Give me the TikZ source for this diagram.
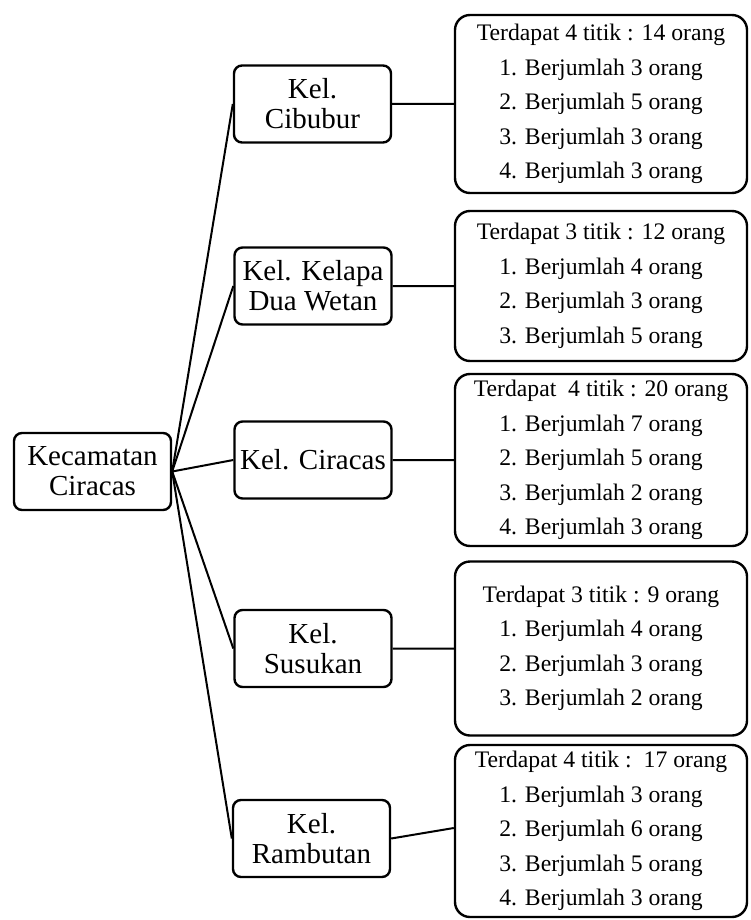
\documentclass[tikz,border=0pt]{standalone}
\usepackage{fontspec}
\setmainfont{Liberation Serif}
\tikzset{
  kel/.style={draw, line width=2.4pt, rounded corners=8pt, minimum width=157pt,
    minimum height=77pt, inner sep=0pt, align=center, font=\fontsize{29}{30}\selectfont},
  rinci/.style={draw, line width=2.4pt, rounded corners=15pt, minimum width=292pt,
    inner sep=0pt, align=center, font=\fontsize{23.7}{34.5}\selectfont},
}
\begin{document}
\begin{tikzpicture}[x=1pt,y=-1pt,line width=2pt]
\useasboundingbox (0,0) rectangle (750,920);
% kecamatan
\node[kel] (kec) at (92.5,471.5) {Kecamatan\\Ciracas};
% kelurahan
\node[kel] (cibubur)  at (312.5,104) {Kel.\\Cibubur};
\node[kel] (kelapa)   at (313,286)   {Kel. Kelapa\\Dua Wetan};
\node[kel] (ciracas)  at (313,460)   {Kel. Ciracas};
\node[kel] (susukan)  at (313,648.5) {Kel.\\Susukan};
\node[kel] (rambutan) at (311.5,838.5) {Kel.\\Rambutan};
% rincian titik
\node[rinci, minimum height=178pt] (rcibubur) at (601,104)
  {Terdapat 4 titik : 14 orang\\1. Berjumlah 3 orang\\2. Berjumlah 5 orang\\3. Berjumlah 3 orang\\4. Berjumlah 3 orang};
\node[rinci, minimum height=150pt] (rkelapa) at (601,286)
  {Terdapat 3 titik : 12 orang\\1. Berjumlah 4 orang\\2. Berjumlah 3 orang\\3. Berjumlah 5 orang};
\node[rinci, minimum height=172pt] (rciracas) at (601,460)
  {Terdapat\ \ 4 titik : 20 orang\\1. Berjumlah 7 orang\\2. Berjumlah 5 orang\\3. Berjumlah 2 orang\\4. Berjumlah 3 orang};
\node[rinci, minimum height=174pt] (rsusukan) at (601,648.5)
  {Terdapat 3 titik : 9 orang\\1. Berjumlah 4 orang\\2. Berjumlah 3 orang\\3. Berjumlah 2 orang};
\node[rinci, minimum height=172pt] (rrambutan) at (601,831)
  {Terdapat 4 titik :\ \ 17 orang\\1. Berjumlah 3 orang\\2. Berjumlah 6 orang\\3. Berjumlah 5 orang\\4. Berjumlah 3 orang};
% garis
\foreach \k in {cibubur,kelapa,ciracas,susukan}
  \draw (kec.east) -- (\k.west) (\k.east) -- (r\k.west);
\draw (kec.east) -- (rambutan.west) (rambutan.east) -- ([yshift=3pt]rrambutan.west);
\end{tikzpicture}
\end{document}
